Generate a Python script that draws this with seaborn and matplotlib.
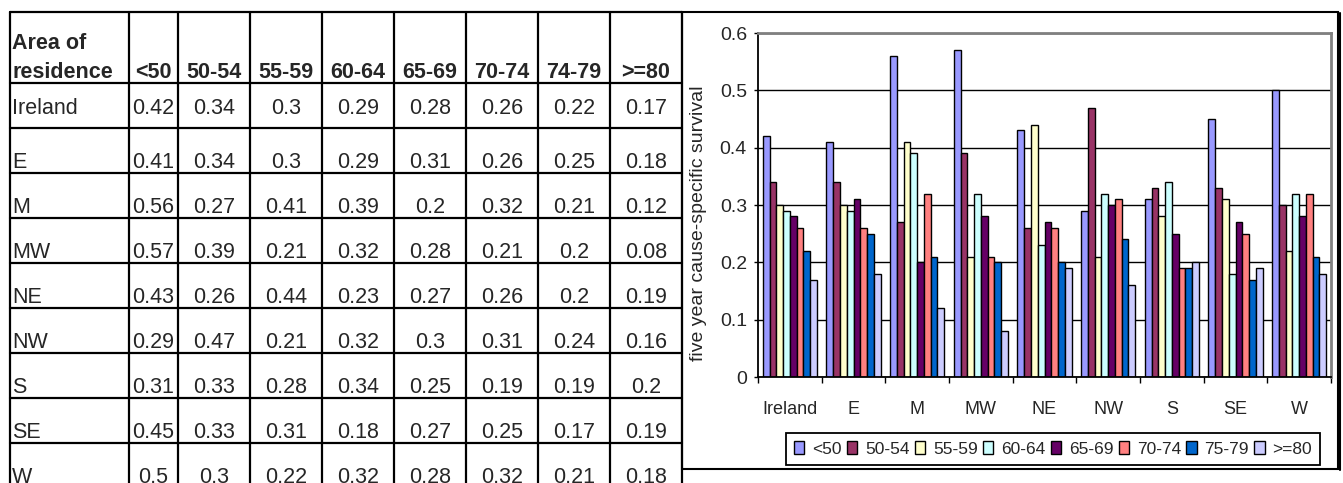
import matplotlib
matplotlib.use("Agg")
import matplotlib.pyplot as plt
from matplotlib.patches import Patch, Rectangle
from matplotlib.ticker import FixedLocator, FuncFormatter
import pandas as pd
import seaborn as sns

# ---- data -------------------------------------------------------------
regions = ["Ireland", "E", "M", "MW", "NE", "NW", "S", "SE", "W"]
age_groups = ["<50", "50-54", "55-59", "60-64", "65-69", "70-74", "75-79", ">=80"]
table_age_labels = ["<50", "50-54", "55-59", "60-64", "65-69", "70-74", "74-79", ">=80"]

ireland = [0.42, 0.34, 0.30, 0.29, 0.28, 0.26, 0.22, 0.17]
east = [0.41, 0.34, 0.30, 0.29, 0.31, 0.26, 0.25, 0.18]
midlands = [0.56, 0.27, 0.41, 0.39, 0.20, 0.32, 0.21, 0.12]
mid_west = [0.57, 0.39, 0.21, 0.32, 0.28, 0.21, 0.20, 0.08]
north_east = [0.43, 0.26, 0.44, 0.23, 0.27, 0.26, 0.20, 0.19]
north_west = [0.29, 0.47, 0.21, 0.32, 0.30, 0.31, 0.24, 0.16]
south = [0.31, 0.33, 0.28, 0.34, 0.25, 0.19, 0.19, 0.20]
south_east = [0.45, 0.33, 0.31, 0.18, 0.27, 0.25, 0.17, 0.19]
west = [0.50, 0.30, 0.22, 0.32, 0.28, 0.32, 0.21, 0.18]

rows = [ireland, east, midlands, mid_west, north_east, north_west, south, south_east, west]

palette = ["#9999FF", "#993366", "#FFFFCC", "#CCFFFF",
           "#660066", "#FF8080", "#0066CC", "#CCCCFF"]

df = pd.DataFrame(
    [(reg, age, val) for reg, vals in zip(regions, rows) for age, val in zip(age_groups, vals)],
    columns=["region", "age", "survival"],
)

# ---- figure -----------------------------------------------------------
sns.set_style("white")
plt.rcParams["font.family"] = ["Liberation Sans", "DejaVu Sans"]

W, H = 1343, 483
fig = plt.figure(figsize=(W / 100, H / 100), dpi=100)

# pixel-space canvas for the table and the chart frame
canvas = fig.add_axes([0, 0, 1, 1], zorder=0)
canvas.set_xlim(0, W)
canvas.set_ylim(H, 0)
canvas.axis("off")

# ---- table ------------------------------------------------------------
col_edges = [10, 129, 178, 250, 322, 394, 466, 538, 610, 682]
row_edges = [12, 83, 128, 173, 218, 263, 308, 353, 398, 443, 488]
table_fs = 15.5
line_kw = dict(color="black", lw=1.6, clip_on=False)

for x in col_edges:
    canvas.plot([x, x], [row_edges[0], row_edges[-1]], **line_kw)
for y in row_edges:
    canvas.plot([col_edges[0], col_edges[-1]], [y, y], **line_kw)

# header row
canvas.text(col_edges[0] + 2, 49, "Area of", fontsize=table_fs, fontweight="bold",
            ha="left", va="baseline")
canvas.text(col_edges[0] + 2, row_edges[1] - 5, "residence", fontsize=table_fs,
            fontweight="bold", ha="left", va="baseline")
for j, lab in enumerate(table_age_labels):
    cx = (col_edges[j + 1] + col_edges[j + 2]) / 2
    canvas.text(cx, row_edges[1] - 5, lab, fontsize=table_fs, fontweight="bold",
                ha="center", va="baseline")

# body rows (first data row is vertically centred, the rest sit near the bottom)
baseline_offsets = [14] + [5] * (len(regions) - 1)
for i, (reg, vals) in enumerate(zip(regions, rows)):
    base = row_edges[i + 2] - baseline_offsets[i]
    canvas.text(col_edges[0] + 2, base, reg, fontsize=table_fs, ha="left", va="baseline")
    for j, v in enumerate(vals):
        cx = (col_edges[j + 1] + col_edges[j + 2]) / 2
        canvas.text(cx, base, f"{v:g}", fontsize=table_fs, ha="center", va="baseline")

# ---- chart frame ------------------------------------------------------
canvas.add_patch(Rectangle((682, 12), 1338 - 682, 469 - 12, fill=False,
                           edgecolor="black", lw=1.5))
canvas.plot([1339.5, 1339.5], [13, 470], color="black", lw=1.5)

# ---- bar chart --------------------------------------------------------
ax = fig.add_axes([758 / W, 1 - 377 / H, (1331 - 758) / W, (377 - 33) / H], zorder=2)
sns.barplot(data=df, x="region", y="survival", hue="age", order=regions,
            hue_order=age_groups, palette=palette, width=0.85, gap=0,
            edgecolor="black", linewidth=1.0, saturation=1, errorbar=None,
            legend=False, ax=ax)

ax.set_xlim(-0.5, len(regions) - 0.5)
ax.set_ylim(0, 0.6)
ax.set_axisbelow(True)
ax.yaxis.set_major_locator(FixedLocator([0, 0.1, 0.2, 0.3, 0.4, 0.5, 0.6]))
ax.yaxis.set_major_formatter(FuncFormatter(lambda v, _: f"{v:g}"))
ax.yaxis.grid(True, color="black", lw=1.0)
ax.xaxis.grid(False)

ax.set_xlabel("")
ax.set_ylabel("five year cause-specific survival", fontsize=14)
ax.yaxis.set_label_coords(-0.089, 0.446)

ax.xaxis.set_minor_locator(FixedLocator([k - 0.5 for k in range(len(regions) + 1)]))
ax.tick_params(axis="x", which="major", length=0, pad=17, labelsize=13)
ax.tick_params(axis="x", which="minor", direction="out", length=4.5, width=1.0,
               color="black", bottom=True)
ax.tick_params(axis="y", which="major", direction="out", length=3, width=1.0,
               color="black", pad=5, labelsize=14, left=True)

for side in ("left", "bottom"):
    ax.spines[side].set_color("black")
    ax.spines[side].set_linewidth(1.3)
for side in ("top", "right"):
    ax.spines[side].set_visible(True)
    ax.spines[side].set_color("#808080")
    ax.spines[side].set_linewidth(2.0)

handles = [Patch(facecolor=c, edgecolor="black", lw=1.0) for c in palette]
leg = fig.legend(handles, age_groups, loc="center",
                 bbox_to_anchor=(1053 / W, 1 - 449 / H), ncol=len(age_groups),
                 fontsize=12.5, handlelength=0.6, handleheight=0.8,
                 handletextpad=0.45, columnspacing=0.3, borderpad=0.45,
                 borderaxespad=0, fancybox=False, framealpha=1)
leg.get_frame().set_edgecolor("black")
leg.get_frame().set_linewidth(1.3)

fig.savefig("out.png", dpi=100)
